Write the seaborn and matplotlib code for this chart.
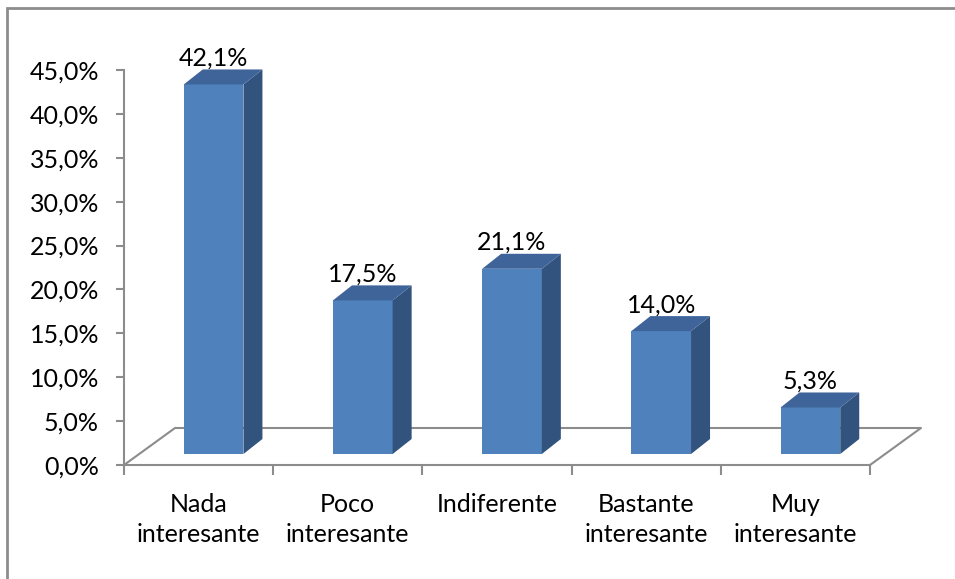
import matplotlib
matplotlib.use("Agg")
import matplotlib.pyplot as plt
import matplotlib.transforms as mtransforms
from matplotlib.patches import Polygon, Rectangle
import seaborn as sns

# Survey results: share of answers per category (percent)
categories = ["Nada\ninteresante", "Poco\ninteresante", "Indiferente",
              "Bastante\ninteresante", "Muy\ninteresante"]
values = [42.1, 17.5, 21.1, 14.0, 5.3]
y_ticks = [0, 5, 10, 15, 20, 25, 30, 35, 40, 45]

FRONT = "#4F81BD"
TOP = "#3F6499"
SIDE = "#31537D"
GRID = "#8C8C8C"
FS = 18

sns.set_theme(style="white")
plt.rcParams["font.family"] = ["Lato", "DejaVu Sans"]

W, H, DPI = 955, 579, 100
fig = plt.figure(figsize=(W / DPI, H / DPI), dpi=DPI)
ax = fig.add_axes([124 / W, 1 - 465 / H, 746 / W, 395 / H])
ax.set_facecolor("none")

sns.barplot(x=categories, y=values, width=0.4, color=FRONT, saturation=1,
            linewidth=0, ax=ax, zorder=3)
ax.set_xlim(-0.5, 4.5)
ax.set_ylim(0, 45)

# pixel -> data unit factors for the pseudo-3D depth
px_x = 746 / 5
px_y = 395 / 45
shift = mtransforms.ScaledTranslation(15 / DPI, 11 / DPI, fig.dpi_scale_trans)
bar_tr = ax.transData + shift
dx, dy = 19 / px_x, 15 / px_y

for p in ax.patches:
    p.set_transform(bar_tr)
    p.set_clip_on(False)
    x0, w, h = p.get_x(), p.get_width(), p.get_height()
    x1 = x0 + w
    side = Polygon([(x1, 0), (x1, h), (x1 + dx, h + dy), (x1 + dx, dy)],
                   closed=True, facecolor=SIDE, edgecolor="none",
                   transform=bar_tr, clip_on=False, zorder=3)
    top = Polygon([(x0, h), (x1, h), (x1 + dx, h + dy), (x0 + dx, h + dy)],
                  closed=True, facecolor=TOP, edgecolor="none",
                  transform=bar_tr, clip_on=False, zorder=3)
    ax.add_patch(side)
    ax.add_patch(top)

for i, v in enumerate(values):
    label = f"{v:.1f}%".replace(".", ",")
    ax.annotate(label, xy=(i, v), xycoords=bar_tr,
                xytext=(0, (15 + 4) * 0.72), textcoords="offset points",
                ha="center", va="baseline", fontsize=FS, color="black",
                zorder=5)

# floor of the 3D plot
fdx, fdy = 51 / px_x, 37 / px_y
floor_x = [-0.5, -0.5 + fdx, 4.5 + fdx, 4.5]
floor_y = [0, fdy, fdy, 0]
ax.plot(floor_x, floor_y, color=GRID, lw=1.5, clip_on=False, zorder=1)

# axes styling
for s in ["top", "right"]:
    ax.spines[s].set_visible(False)
for s in ["left", "bottom"]:
    ax.spines[s].set_color(GRID)
    ax.spines[s].set_linewidth(1.5)
    ax.spines[s].set_zorder(2)

ax.set_yticks(y_ticks)
ax.set_yticklabels([f"{t:.1f}%".replace(".", ",") for t in y_ticks])
ax.tick_params(axis="y", left=True, length=8 * 0.72, width=1.5, color=GRID,
               pad=17 * 0.72, labelsize=FS, labelcolor="black")
ax.set_xticks(range(len(categories)))
ax.set_xticklabels(categories, linespacing=1.4)
ax.set_xticks([i - 0.5 for i in range(len(categories) + 1)], minor=True)
ax.tick_params(axis="x", which="major", bottom=False, length=0,
               pad=20, labelsize=FS, labelcolor="black")
ax.tick_params(axis="x", which="minor", bottom=True, length=10 * 0.72,
               width=1.5, color=GRID)
ax.set_xlabel("")
ax.set_ylabel("")

# chart area border
fig.add_artist(Rectangle((7 / W, -0.05), 1.2, 1 - 8 / H + 0.05,
                         transform=fig.transFigure, fill=False,
                         edgecolor=GRID, lw=2))

fig.savefig("out.png", dpi=DPI)
